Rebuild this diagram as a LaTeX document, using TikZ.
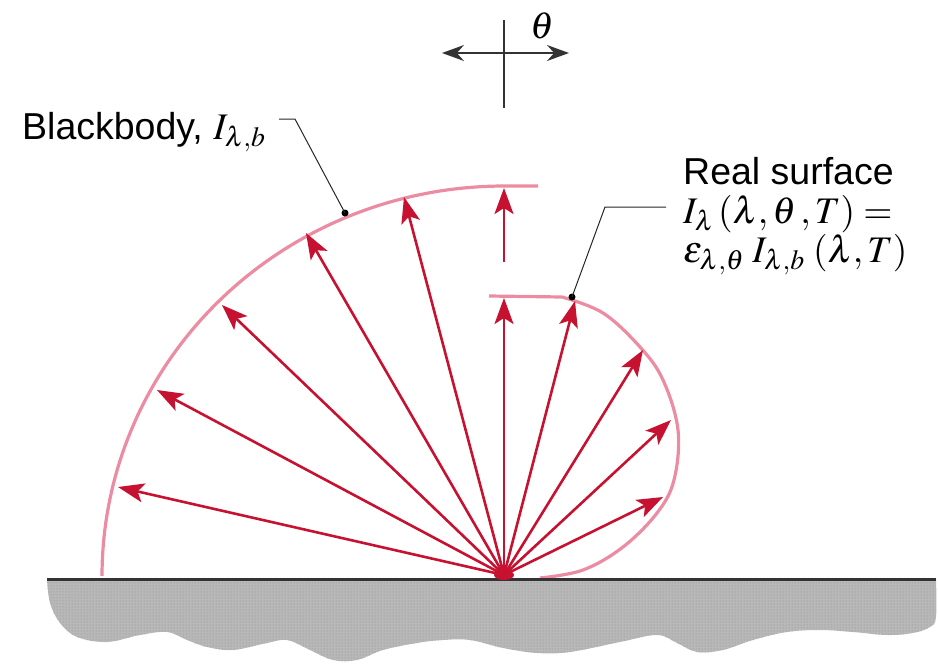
\documentclass[tikz,border=0pt]{standalone}
\usepackage{mathptmx}
\usepackage[no-math]{fontspec}
\setmainfont{Liberation Sans}
\usetikzlibrary{arrows.meta,patterns}
\definecolor{arrowred}{RGB}{198,18,48}
\definecolor{arcpink}{RGB}{236,140,162}
\definecolor{groundgray}{RGB}{184,184,184}
\begin{document}
\begin{tikzpicture}[x=1pt,y=-1pt,
  ray/.style={draw=arrowred,line width=2.6pt,-{Stealth[length=26pt,width=19pt,inset=6pt]}},
  lobe/.style={draw=arcpink,line width=3.2pt},
  leader/.style={draw=black!85,line width=1pt},
  ptdot/.style={fill=black,circle,inner sep=0pt,minimum size=7pt},
  lab/.style={font=\fontsize{37.5}{39}\selectfont,inner sep=0pt},
  bigarrow/.style={draw=black!80,line width=1.4pt,{Stealth[length=22pt,width=16pt]}-{Stealth[length=22pt,width=16pt]}}]
\useasboundingbox (0,0) rectangle (938,670);
% ground
\coordinate (gl) at (47,579);
\coordinate (gr) at (936,579);
\def\groundpath{(gl) -- (gr) -- plot[smooth,tension=0.6] coordinates {(936,579) (936,617) (930,627) (913,633) (887,635) (853,632) (820,630) (787,632) (753,640) (723,650) (697,652) (677,643) (657,635) (620,642) (570,652) (537,653) (503,648) (470,640) (443,640) (417,643) (383,650) (357,660) (333,660) (310,650) (287,640) (267,643) (233,650) (207,647) (187,640) (167,632) (140,635) (107,642) (77,637) (60,623) (50,603) (47,579)} -- cycle}
\fill[groundgray] \groundpath;
\fill[pattern=dots,pattern color=black!45] \groundpath;
% blackbody arc
\draw[lobe] plot[domain=180:90,samples=80] ({504+402*cos(\x)},{576-390*sin(\x)}) -- (538,186);
% real surface lobe
\draw[lobe] (489,296) -- (562,297) plot[smooth,tension=0.6] coordinates {(562,297) (603,313) (640,347) (663,380) (678,430) (674,480) (657,513) (623,547) (583,570) (540,578)};
\draw[line width=3pt,draw=black!80] (gl) -- (gr);
% rays
\coordinate (O) at (504,575);
\coordinate (b1) at (118,487);
\coordinate (b2) at (157,390);
\coordinate (b3) at (222,305);
\coordinate (b4) at (306,233);
\coordinate (b5) at (404,197);
\coordinate (bs) at (504,262);
\coordinate (bt) at (504,188);
\coordinate (r0) at (504,298);
\coordinate (r1) at (575,301);
\coordinate (r2) at (643,350);
\coordinate (r3) at (671,420);
\coordinate (r4) at (663,497);
\foreach \t in {b1,b2,b3,b4,b5,r0,r1,r2,r3,r4} \draw[ray] (O) -- (\t);
\draw[ray] (bs) -- (bt);
\fill[arrowred] (O) ellipse (10 and 5);
% theta symbol
\coordinate (vt) at (504,20);
\coordinate (vb) at (504,108);
\coordinate (hl) at (442,53);
\coordinate (hr) at (569,53);
\draw[draw=black!80,line width=1.4pt] (vt) -- (vb);
\draw[bigarrow] (hl) -- (hr);
\node[lab] (th) at (542,26) {$\theta$};
% labels
\node[lab,anchor=base west] (bb) at (22,139) {Blackbody, $I_{\lambda,b}$};
\node[lab,anchor=base west,align=left] (rs) at (683,262) {Real surface\\
$I_{\lambda}\,(\lambda,\theta\,,T) =$\\
$\varepsilon_{\lambda,\theta}\;I_{\lambda,b}\;(\lambda,T)$};
% leaders
\node[ptdot] (d1) at (345,213) {};
\node[ptdot] (d2) at (572,297) {};
\coordinate (k1) at (295,119);
\coordinate (e1) at (279,119);
\coordinate (k2) at (605,207);
\coordinate (e2) at (666,207);
\draw[leader] (e1) -- (k1) -- (d1.center);
\draw[leader] (e2) -- (k2) -- (d2.center);
\end{tikzpicture}
\end{document}
